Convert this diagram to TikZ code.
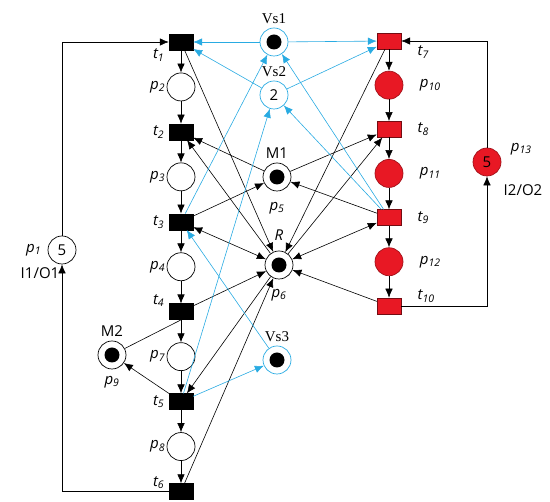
\documentclass[tikz,border=0pt]{standalone}
\usepackage{fontspec}
\setmainfont{Open Sans}
\newfontfamily\vsfont{Liberation Serif}
\usetikzlibrary{arrows.meta,positioning}
\definecolor{vsblue}{RGB}{41,171,226}
\definecolor{pnred}{RGB}{232,24,36}
\newcommand{\pl}[1]{\textit{p\textsubscript{#1}}}
\newcommand{\tl}[1]{\textit{t\textsubscript{#1}}}

\begin{document}
\begin{tikzpicture}[
  x=1pt, y=-1pt,
  font=\fontsize{15}{17}\selectfont,
  every label/.style={font=\fontsize{15}{17}\selectfont},
  place/.style={draw, circle, line width=0.7pt, minimum size=28pt, inner sep=0pt},
  redplace/.style={place, draw=pnred!70!black, fill=pnred},
  vsplace/.style={place, draw=vsblue},
  trans/.style={draw, fill=black, minimum width=24pt, minimum height=16pt, inner sep=0pt},
  redtrans/.style={trans, draw=pnred!50!black, fill=pnred},
  token/.style={path picture={\fill[black] (path picture bounding box.center) circle (7.5pt);}},
  arr/.style={-{Latex[length=9pt,width=7.5pt]}, line width=0.6pt},
  blarr/.style={arr, vsblue},
  dblarr/.style={{Latex[length=9pt,width=7.5pt]}-{Latex[length=9pt,width=7.5pt]}, line width=0.6pt}
]
\useasboundingbox (0,0) rectangle (550,502);
% left process
\node[trans, label={[label distance=1pt, yshift=-13pt]left:\tl{1}}] (t1) at (181,42) {};
\node[place, below=22.4pt of t1, label={[label distance=-2pt]left:\pl{2}}] (p2) {};
\node[trans, below=22.4pt of p2, label={[label distance=1pt]left:\tl{2}}] (t2) {};
\node[place, below=22.4pt of t2, label={[label distance=-2pt]left:\pl{3}}] (p3) {};
\node[trans, below=22.4pt of p3, label={[label distance=1pt]left:\tl{3}}] (t3) {};
\node[place, below=22.4pt of t3, label={[label distance=-2pt]left:\pl{4}}] (p4) {};
\node[trans, below=22.4pt of p4, label={[label distance=1pt, yshift=11pt]left:\tl{4}}] (t4) {};
\node[place, below=22.4pt of t4, label={[label distance=-2pt]left:\pl{7}}] (p7) {};
\node[trans, below=22.4pt of p7, label={[label distance=1pt]left:\tl{5}}] (t5) {};
\node[place, below=22.4pt of t5, label={[label distance=-2pt]left:\pl{8}}] (p8) {};
\node[trans, below=22.4pt of p8, label={[label distance=1pt, yshift=9pt]left:\tl{6}}] (t6) {};
\node[place, label={[label distance=3pt]left:\pl{1}}, label={[xshift=-22pt]below:I1/O1}] (p1) at (62,250) {5};
% right process
\node[redtrans, label={[label distance=13pt, yshift=-11pt]right:\tl{7}}] (t7) at (389,41) {};
\node[redplace, below=21.6pt of t7, label={[label distance=13pt]right:\pl{10}}] (p10) {};
\node[redtrans, below=21.6pt of p10, label={[label distance=13pt]right:\tl{8}}] (t8) {};
\node[redplace, below=21.6pt of t8, label={[label distance=13pt]right:\pl{11}}] (p11) {};
\node[redtrans, below=21.6pt of p11, label={[label distance=13pt]right:\tl{9}}] (t9) {};
\node[redplace, below=21.6pt of t9, label={[label distance=13pt]right:\pl{12}}] (p12) {};
\node[redtrans, below=21.6pt of p12, label={[label distance=13pt, yshift=10pt]right:\tl{10}}] (t10) {};
\node[redplace, label={[label distance=6pt, yshift=13pt]right:\pl{13}}, label={[xshift=36pt, yshift=-5pt]below:I2/O2}] (p13) at (487,162) {5};
% resources and virtual places
\node[vsplace, token, label={[label distance=0pt]above:{\vsfont Vs1}}] (vs1) at (274,42) {};
\node[vsplace, label={[label distance=0pt]above:{\vsfont Vs2}}] (vs2) at (274,95) {2};
\node[place, token, label={[label distance=1pt]above:M1}, label={[label distance=0pt, yshift=-7pt]below:\pl{5}}] (p5) at (277,177) {};
\node[place, token, label={[label distance=0pt, yshift=7pt]above:\textit{R}}, label={[label distance=0pt, yshift=-6pt]below:\pl{6}}] (p6) at (279,265) {};
\node[vsplace, token, label={[label distance=0pt]above:{\vsfont Vs3}}] (vs3) at (277,360) {};
\node[place, token, label={[label distance=1pt]above:M2}, label={[label distance=3pt]below:\pl{9}}] (p9) at (112,355) {};
% flow arcs
\draw[arr] (t1) -- (p2);
\draw[arr] (p2) -- (t2);
\draw[arr] (t2) -- (p3);
\draw[arr] (p3) -- (t3);
\draw[arr] (t3) -- (p4);
\draw[arr] (p4) -- (t4);
\draw[arr] (t4) -- (p7);
\draw[arr] (p7) -- (t5);
\draw[arr] (t5) -- (p8);
\draw[arr] (p8) -- (t6);
\draw[arr] (t6.west) -| (p1.south);
\draw[arr] (p1.north) |- (t1.west);
\draw[arr] (t7) -- (p10);
\draw[arr] (p10) -- (t8);
\draw[arr] (t8) -- (p11);
\draw[arr] (p11) -- (t9);
\draw[arr] (t9) -- (p12);
\draw[arr] (p12) -- (t10);
\draw[arr] (t10.east) -| (p13.south);
\draw[arr] (p13.north) |- (t7.east);
% resource arcs
\draw[arr] (t1) -- (p6);
\draw[arr] (p6) -- (t2);
\draw[arr] (p5) -- (t2);
\draw[arr] (t3) -- (p5);
\draw[dblarr] (t3) -- (p6);
\draw[arr] (t4) -- (p6);
\draw[line width=0.6pt] (p9) -- (t4.south);
\draw[arr] (t5) -- (p9);
\draw[arr] (p6) -- (t5);
\draw[arr] (t6) -- (p6);
\draw[arr] (t7) -- (p6);
\draw[arr] (p6) -- (t8);
\draw[arr] (p5) -- (t8);
\draw[arr] (t9) -- (p5);
\draw[dblarr] (t9) -- (p6);
\draw[arr] (t10) -- (p6);
% virtual place arcs
\draw[blarr] (vs1) -- (t1);
\draw[blarr] (vs1) -- (t7);
\draw[blarr] (vs2) -- (t1);
\draw[blarr] (vs2) -- (t7);
\draw[blarr] (t3) -- (vs1);
\draw[blarr] (t5) -- (vs2);
\draw[blarr] (t9) -- (vs1);
\draw[blarr] (t9) -- (vs2);
\draw[blarr] (vs3) -- (t3);
\draw[blarr] (t5) -- (vs3);
\end{tikzpicture}
\end{document}
